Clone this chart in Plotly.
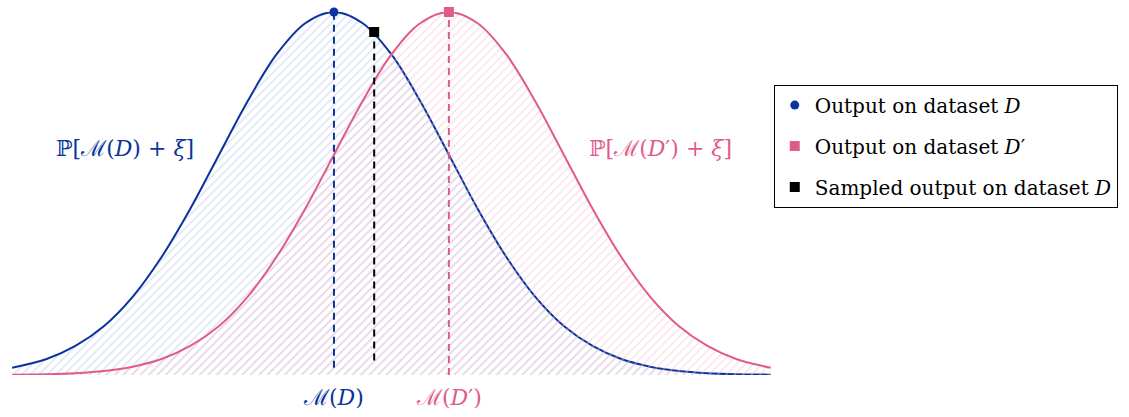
import plotly.graph_objects as go

# Values (curve heights normalised so the peak = 1)
xs = [-2.8, -2.5, -2.25, -2.0, -1.75, -1.5, -1.25, -1.0, -0.75, -0.5, -0.25, 0.0,
      0.25, 0.5, 0.75, 1.0, 1.25, 1.5, 1.75, 2.0, 2.25, 2.5, 2.75, 3.0, 3.25, 3.5, 3.8]
blue_vals = [0.020, 0.044, 0.080, 0.135, 0.216, 0.325, 0.458, 0.607, 0.755, 0.883, 0.969, 1.000,
             0.969, 0.883, 0.755, 0.607, 0.458, 0.325, 0.216, 0.135, 0.080, 0.044, 0.023, 0.011,
             0.005, 0.002, 0.001]
pink_vals = [0.001, 0.002, 0.005, 0.011, 0.023, 0.044, 0.080, 0.135, 0.216, 0.325, 0.458, 0.607,
             0.755, 0.883, 0.969, 1.000, 0.969, 0.883, 0.755, 0.607, 0.458, 0.325, 0.216, 0.135,
             0.080, 0.044, 0.020]

mu_d = 0.0
mu_d2 = 1.0
peak = 1.0
sample_x = 0.35
sample_y = 0.945

legend_names = ["Output on dataset <i>D</i>", "Output on dataset <i>D</i>′",
                "Sampled output on dataset <i>D</i>"]
curve_labels = ["ℙ[ℳ(<i>D</i>) + <i>ξ</i>]", "ℙ[ℳ(<i>D</i>′) + <i>ξ</i>]"]
axis_labels = ["ℳ(<i>D</i>)", "ℳ(<i>D</i>′)"]

BLUE = "#0a339e"
PINK = "#e05c88"
SERIF = "DejaVu Serif, Liberation Serif, serif"

fig = go.Figure()

fig.add_trace(go.Scatter(
    x=xs, y=blue_vals, mode="lines", line=dict(color=BLUE, width=2, shape="spline"),
    fill="tozeroy", fillcolor="rgba(0,0,0,0)",
    fillpattern=dict(shape="/", fgcolor="#b7c6e8", bgcolor="rgba(0,0,0,0)",
                     size=6, solidity=0.25),
    showlegend=False, hoverinfo="skip"))
fig.add_trace(go.Scatter(
    x=xs, y=pink_vals, mode="lines", line=dict(color=PINK, width=2, shape="spline"),
    fill="tozeroy", fillcolor="rgba(0,0,0,0)",
    fillpattern=dict(shape="/", fgcolor="#f3c6d6", bgcolor="rgba(0,0,0,0)",
                     size=6, solidity=0.25),
    showlegend=False, hoverinfo="skip"))

# dashed verticals
fig.add_trace(go.Scatter(x=[mu_d, mu_d], y=[0.02, peak], mode="lines",
                         line=dict(color=BLUE, width=2, dash="7px,5px"),
                         showlegend=False, hoverinfo="skip"))
fig.add_trace(go.Scatter(x=[sample_x, sample_x], y=[0.04, sample_y], mode="lines",
                         line=dict(color="black", width=2, dash="7px,5px"),
                         showlegend=False, hoverinfo="skip"))
fig.add_trace(go.Scatter(x=[mu_d2, mu_d2], y=[0.0, peak], mode="lines",
                         line=dict(color=PINK, width=2, dash="7px,5px"),
                         showlegend=False, hoverinfo="skip"))

# markers (legend entries)
fig.add_trace(go.Scatter(x=[mu_d], y=[peak], mode="markers", name=legend_names[0],
                         marker=dict(color=BLUE, size=9, symbol="circle"),
                         cliponaxis=False, legendgroup="a"))
fig.add_trace(go.Scatter(x=[mu_d2], y=[peak], mode="markers", name=legend_names[1],
                         marker=dict(color=PINK, size=10, symbol="square"),
                         cliponaxis=False, legendgroup="b"))
fig.add_trace(go.Scatter(x=[sample_x], y=[sample_y], mode="markers", name=legend_names[2],
                         marker=dict(color="black", size=10, symbol="square"),
                         cliponaxis=False, legendgroup="c"))

annos = [
    dict(x=-1.82, y=0.625, yref="y", text=curve_labels[0],
         font=dict(color=BLUE, size=22, family=SERIF)),
    dict(x=2.84, y=0.625, yref="y", text=curve_labels[1],
         font=dict(color=PINK, size=22, family=SERIF)),
    dict(x=mu_d, y=-0.061, yref="paper", text=axis_labels[0],
         font=dict(color=BLUE, size=22, family=SERIF)),
    dict(x=mu_d2, y=-0.061, yref="paper", text=axis_labels[1],
         font=dict(color=PINK, size=22, family=SERIF)),
]
for a in annos:
    a.update(xref="x", showarrow=False, xanchor="center", yanchor="middle")

fig.update_layout(
    width=1129, height=417,
    margin=dict(l=11, r=356, t=12, b=42),
    paper_bgcolor="white", plot_bgcolor="white",
    xaxis=dict(range=[-2.81, 3.82], visible=False),
    yaxis=dict(range=[0, 1.0], visible=False),
    annotations=annos,
    legend=dict(x=1.001, y=0.8, xanchor="left", yanchor="top",
                bordercolor="black", borderwidth=1, bgcolor="white",
                font=dict(family=SERIF, size=20, color="black"),
                traceorder="grouped", tracegroupgap=12, itemwidth=30),
)

fig.write_html("out.html")
